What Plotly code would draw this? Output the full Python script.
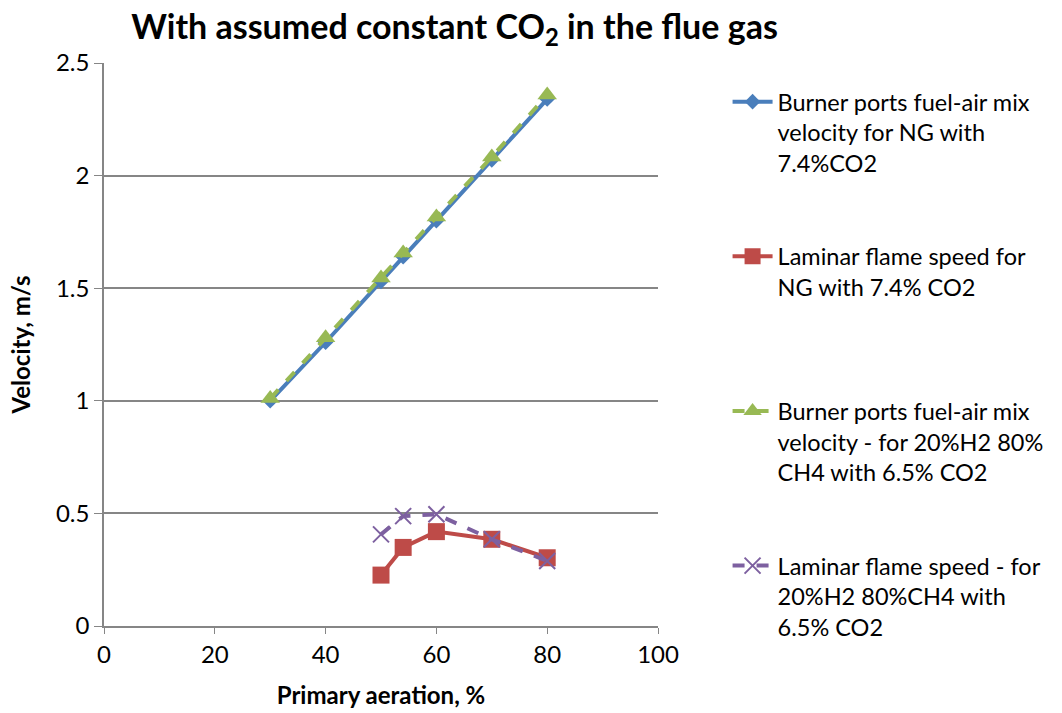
import plotly.graph_objects as go

x_ng = [30, 40, 50, 54, 60, 70, 80]
v_port_ng = [1.00, 1.26, 1.53, 1.64, 1.80, 2.07, 2.34]
v_port_h2 = [1.01, 1.28, 1.545, 1.656, 1.816, 2.083, 2.358]

x_flame = [50, 54, 60, 70, 80]
s_flame_ng = [0.226, 0.349, 0.419, 0.385, 0.303]
s_flame_h2 = [0.407, 0.488, 0.496, 0.385, 0.289]

names = [
    "Burner ports fuel-air mix<br>velocity for NG with<br>7.4%CO2",
    "Laminar flame speed for<br>NG with 7.4% CO2<br> ",
    "Burner ports fuel-air mix<br>velocity - for 20%H2 80%<br>CH4 with 6.5% CO2",
    "Laminar flame speed - for<br>20%H2 80%CH4 with<br>6.5% CO2",
]

BLUE = "#4A7EBB"
RED = "#BE4B48"
GREEN = "#98B954"
PURPLE = "#7D60A0"

fig = go.Figure()
fig.add_trace(go.Scatter(x=x_ng, y=v_port_ng, name=names[0], legendgroup="a", legendrank=1,
                         mode="lines+markers", line=dict(color=BLUE, width=4),
                         marker=dict(symbol="diamond", size=12, color=BLUE)))
fig.add_trace(go.Scatter(x=x_ng, y=v_port_h2, name=names[2], legendgroup="c", legendrank=3,
                         mode="lines+markers", line=dict(color=GREEN, width=4, dash="dash"),
                         marker=dict(symbol="triangle-up", size=17, color=GREEN)))
fig.add_trace(go.Scatter(x=x_flame, y=s_flame_ng, name=names[1], legendgroup="b", legendrank=2,
                         mode="lines+markers", line=dict(color=RED, width=4),
                         marker=dict(symbol="square", size=17, color=RED)))
fig.add_trace(go.Scatter(x=x_flame, y=s_flame_h2, name=names[3], legendgroup="d", legendrank=4,
                         mode="lines+markers", line=dict(color=PURPLE, width=4, dash="dash"),
                         marker=dict(symbol="x-thin", size=16, color=PURPLE,
                                     line=dict(color=PURPLE, width=2))))

FONT = "Lato, Open Sans, sans-serif"
fig.update_layout(
    width=1062, height=713,
    margin=dict(l=104, r=404, t=63, b=87),
    paper_bgcolor="white", plot_bgcolor="white",
    font=dict(family=FONT, color="black", size=24),
    title=dict(text="<b>With assumed constant CO<sub>2</sub> in the flue gas</b>",
               x=0.428, xanchor="center", y=0.962, yanchor="middle",
               font=dict(size=34, family=FONT, color="black")),
    legend=dict(x=1.705, xanchor="right", y=0.97, yanchor="top",
                valign="top", font=dict(size=23.5, family=FONT),
                tracegroupgap=60, traceorder="grouped", maxheight=700,
                bgcolor="rgba(0,0,0,0)", itemwidth=40, borderwidth=0),
    xaxis=dict(range=[0, 100], dtick=20, tick0=0, showgrid=False,
               showline=True, linecolor="#868686", linewidth=1.5,
               ticks="outside", ticklen=6, tickcolor="#868686",
               tickfont=dict(size=24), automargin=False,
               title=dict(text="<b>Primary aeration, %</b>", font=dict(size=24), standoff=21),
               zeroline=False),
    yaxis=dict(range=[0, 2.5], dtick=0.5, tick0=0, showgrid=True,
               gridcolor="#868686", gridwidth=1.5,
               showline=True, linecolor="#868686", linewidth=1.5,
               ticks="outside", ticklen=8, tickcolor="#868686",
               tickfont=dict(size=24), automargin=False,
               title=dict(text="<b>Velocity, m/s</b>", font=dict(size=24), standoff=19),
               zeroline=False),
)

fig.write_html("out.html")
